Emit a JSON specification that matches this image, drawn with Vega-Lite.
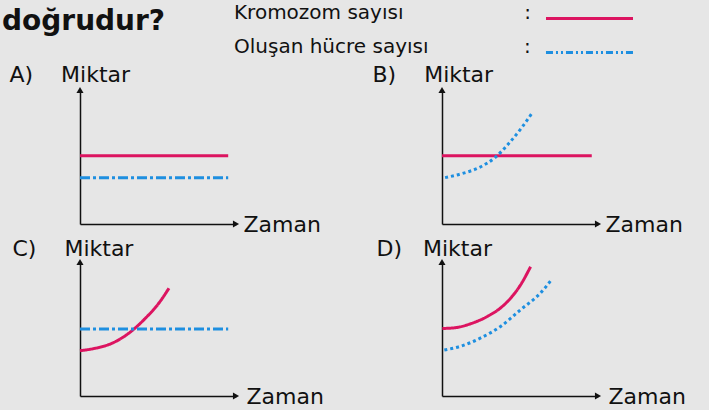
{
  "$schema": "https://vega.github.io/schema/vega-lite/v6.json",
  "background": "#e6e6e6",
  "padding": {"left": 2, "top": 8, "right": 30, "bottom": 12},
  "autosize": {"type": "pad"},
  "datasets": {
    "A": [
      {"series": "Kromozom sayısı", "dash": "solid", "x": 0, "y": 5.1},
      {"series": "Kromozom sayısı", "dash": "solid", "x": 9.5, "y": 5.1},
      {"series": "Oluşan hücre sayısı", "dash": "dashdot", "x": 0, "y": 3.45},
      {"series": "Oluşan hücre sayısı", "dash": "dashdot", "x": 9.5, "y": 3.45}
    ],
    "B": [
      {"series": "Kromozom sayısı", "dash": "solid", "x": 0, "y": 5.1},
      {"series": "Kromozom sayısı", "dash": "solid", "x": 9.6, "y": 5.1},
      {"series": "Oluşan hücre sayısı", "dash": "dotted", "x": 0.2, "y": 3.46},
      {"series": "Oluşan hücre sayısı", "dash": "dotted", "x": 1.28, "y": 3.76},
      {"series": "Oluşan hücre sayısı", "dash": "dotted", "x": 2.37, "y": 4.21},
      {"series": "Oluşan hücre sayısı", "dash": "dotted", "x": 3.4, "y": 4.96},
      {"series": "Oluşan hücre sayısı", "dash": "dotted", "x": 4.29, "y": 6.02},
      {"series": "Oluşan hücre sayısı", "dash": "dotted", "x": 5.13, "y": 7.22},
      {"series": "Oluşan hücre sayısı", "dash": "dotted", "x": 5.77, "y": 8.27}
    ],
    "C": [
      {"series": "Kromozom sayısı", "dash": "solid", "x": 0, "y": 3.38},
      {"series": "Kromozom sayısı", "dash": "solid", "x": 0.97, "y": 3.56},
      {"series": "Kromozom sayısı", "dash": "solid", "x": 2.04, "y": 3.93},
      {"series": "Kromozom sayısı", "dash": "solid", "x": 3.12, "y": 4.68},
      {"series": "Kromozom sayısı", "dash": "solid", "x": 4.19, "y": 5.8},
      {"series": "Kromozom sayısı", "dash": "solid", "x": 5.05, "y": 6.92},
      {"series": "Kromozom sayısı", "dash": "solid", "x": 5.7, "y": 8.04},
      {"series": "Oluşan hücre sayısı", "dash": "dashdot", "x": 0, "y": 5.0},
      {"series": "Oluşan hücre sayısı", "dash": "dashdot", "x": 9.5, "y": 5.0}
    ],
    "D": [
      {"series": "Kromozom sayısı", "dash": "solid", "x": 0.02, "y": 5.04},
      {"series": "Kromozom sayısı", "dash": "solid", "x": 0.82, "y": 5.09},
      {"series": "Kromozom sayısı", "dash": "solid", "x": 1.88, "y": 5.41},
      {"series": "Kromozom sayısı", "dash": "solid", "x": 2.93, "y": 5.95},
      {"series": "Kromozom sayısı", "dash": "solid", "x": 3.99, "y": 6.81},
      {"series": "Kromozom sayısı", "dash": "solid", "x": 5.04, "y": 8.3},
      {"series": "Kromozom sayısı", "dash": "solid", "x": 5.68, "y": 9.65},
      {"series": "Oluşan hücre sayısı", "dash": "dotted", "x": 0.15, "y": 3.43},
      {"series": "Oluşan hücre sayısı", "dash": "dotted", "x": 1.25, "y": 3.73},
      {"series": "Oluşan hücre sayısı", "dash": "dotted", "x": 2.51, "y": 4.35},
      {"series": "Oluşan hücre sayısı", "dash": "dotted", "x": 3.78, "y": 5.21},
      {"series": "Oluşan hücre sayısı", "dash": "dotted", "x": 5.04, "y": 6.44},
      {"series": "Oluşan hücre sayısı", "dash": "dotted", "x": 6.31, "y": 7.68},
      {"series": "Oluşan hücre sayısı", "dash": "dotted", "x": 7.05, "y": 8.72}
    ],
    "tip": [{}]
  },
  "columns": 2,
  "spacing": {"column": 206, "row": 38},
  "bounds": "flush",
  "resolve": {"scale": {"x": "independent", "y": "independent", "color": "shared", "strokeDash": "shared"}},
  "concat": [
    {
      "width": 156, "height": 134,
      "layer": [
        {
          "data": {"name": "A"},
          "mark": {"type": "line", "strokeWidth": 3, "interpolate": "monotone", "strokeCap": "butt"},
          "encoding": {
            "x": {"field": "x", "type": "quantitative", "scale": {"domain": [0, 10], "nice": false}, "axis": {"title": "Zaman", "titleX": 163, "titleY": 7}},
            "y": {"field": "y", "type": "quantitative", "scale": {"domain": [0, 10], "nice": false}, "axis": {"title": "A)\u00a0\u00a0\u00a0\u00a0Miktar", "titleX": -71, "titleY": -9}},
            "color": {
              "field": "series", "type": "nominal",
              "scale": {"domain": ["Kromozom sayısı", "Oluşan hücre sayısı"], "range": ["#dc1460", "#1e8fe0"]},
              "legend": {
                "orient": "none", "legendX": -78, "legendY": -82, "direction": "vertical",
                "title": "doğrudur?", "titleOrient": "left", "titleFont": "DejaVu Sans", "titleFontSize": 28, "titleFontWeight": "bold", "titleColor": "#111", "titlePadding": 68, "titleBaseline": "top", "titleAnchor": "start", "titleLimit": 0,
                "symbolType": "M-5,0H5", "symbolSize": 303, "symbolStrokeWidth": 3, "symbolOffset": 345, "labelOffset": -366,
                "labelFont": "DejaVu Sans", "labelFontSize": 20, "labelColor": "#111", "labelLimit": 0, "labelBaseline": "alphabetic",
                "rowPadding": 11, "padding": 0,
                "labelExpr": "datum.label === 'Kromozom sayısı' ? 'Kromozom sayısı\u00a0\u00a0\u00a0\u00a0\u00a0\u00a0\u00a0\u00a0\u00a0\u00a0\u00a0\u00a0\u00a0\u00a0\u00a0\u00a0\u00a0\u00a0\u00a0:' : 'Oluşan hücre sayısı\u00a0\u00a0\u00a0\u00a0\u00a0\u00a0\u00a0\u00a0\u00a0\u00a0\u00a0\u00a0\u00a0\u00a0\u00a0:'",
                "encode": {"symbols": {"update": {"strokeDash": {"signal": "datum.value === 'Oluşan hücre sayısı' ? [7, 3, 2, 3, 2, 3] : [1, 0]"}}}}
              }
            },
            "strokeDash": {"field": "dash", "type": "nominal", "scale": {"domain": ["solid", "dashdot", "dotted"], "range": [[1, 0], [10, 3, 3, 3], [3, 3]]}, "legend": null}
          }
        },
        {
          "data": {"name": "tip"},
          "mark": {"type": "point", "shape": "triangle-up", "filled": true, "color": "#111", "size": 50, "opacity": 1},
          "encoding": {"x": {"datum": 0, "type": "quantitative"}, "y": {"datum": 10, "type": "quantitative"}}
        },
        {
          "data": {"name": "tip"},
          "mark": {"type": "point", "shape": "triangle-right", "filled": true, "color": "#111", "size": 50, "opacity": 1},
          "encoding": {"x": {"datum": 10, "type": "quantitative"}, "y": {"datum": 0, "type": "quantitative"}}
        }
      ]
    },
    {
      "width": 156, "height": 134,
      "layer": [
        {
          "data": {"name": "B"},
          "mark": {"type": "line", "strokeWidth": 3, "interpolate": "monotone", "strokeCap": "butt"},
          "encoding": {
            "x": {"field": "x", "type": "quantitative", "scale": {"domain": [0, 10], "nice": false}, "axis": {"title": "Zaman", "titleX": 163, "titleY": 7}},
            "y": {"field": "y", "type": "quantitative", "scale": {"domain": [0, 10], "nice": false}, "axis": {"title": "B)\u00a0\u00a0\u00a0\u00a0Miktar", "titleX": -70, "titleY": -9}},
            "color": {"field": "series", "type": "nominal"},
            "strokeDash": {"field": "dash", "type": "nominal", "legend": null}
          }
        },
        {
          "data": {"name": "tip"},
          "mark": {"type": "point", "shape": "triangle-up", "filled": true, "color": "#111", "size": 50, "opacity": 1},
          "encoding": {"x": {"datum": 0, "type": "quantitative"}, "y": {"datum": 10, "type": "quantitative"}}
        },
        {
          "data": {"name": "tip"},
          "mark": {"type": "point", "shape": "triangle-right", "filled": true, "color": "#111", "size": 50, "opacity": 1},
          "encoding": {"x": {"datum": 10, "type": "quantitative"}, "y": {"datum": 0, "type": "quantitative"}}
        }
      ]
    },
    {
      "width": 156, "height": 134,
      "layer": [
        {
          "data": {"name": "C"},
          "mark": {"type": "line", "strokeWidth": 3, "interpolate": "monotone", "strokeCap": "butt"},
          "encoding": {
            "x": {"field": "x", "type": "quantitative", "scale": {"domain": [0, 10], "nice": false}, "axis": {"title": "Zaman", "titleX": 166, "titleY": 7}},
            "y": {"field": "y", "type": "quantitative", "scale": {"domain": [0, 10], "nice": false}, "axis": {"title": "C)\u00a0\u00a0\u00a0\u00a0Miktar", "titleX": -68, "titleY": -7}},
            "color": {"field": "series", "type": "nominal"},
            "strokeDash": {"field": "dash", "type": "nominal", "legend": null}
          }
        },
        {
          "data": {"name": "tip"},
          "mark": {"type": "point", "shape": "triangle-up", "filled": true, "color": "#111", "size": 50, "opacity": 1},
          "encoding": {"x": {"datum": 0, "type": "quantitative"}, "y": {"datum": 10, "type": "quantitative"}}
        },
        {
          "data": {"name": "tip"},
          "mark": {"type": "point", "shape": "triangle-right", "filled": true, "color": "#111", "size": 50, "opacity": 1},
          "encoding": {"x": {"datum": 10, "type": "quantitative"}, "y": {"datum": 0, "type": "quantitative"}}
        }
      ]
    },
    {
      "width": 156, "height": 134,
      "layer": [
        {
          "data": {"name": "D"},
          "mark": {"type": "line", "strokeWidth": 3, "interpolate": "monotone", "strokeCap": "butt"},
          "encoding": {
            "x": {"field": "x", "type": "quantitative", "scale": {"domain": [0, 10], "nice": false}, "axis": {"title": "Zaman", "titleX": 166, "titleY": 7}},
            "y": {"field": "y", "type": "quantitative", "scale": {"domain": [0, 10], "nice": false}, "axis": {"title": "D)\u00a0\u00a0\u00a0Miktar", "titleX": -66, "titleY": -7}},
            "color": {"field": "series", "type": "nominal"},
            "strokeDash": {"field": "dash", "type": "nominal", "legend": null}
          }
        },
        {
          "data": {"name": "tip"},
          "mark": {"type": "point", "shape": "triangle-up", "filled": true, "color": "#111", "size": 50, "opacity": 1},
          "encoding": {"x": {"datum": 0, "type": "quantitative"}, "y": {"datum": 10, "type": "quantitative"}}
        },
        {
          "data": {"name": "tip"},
          "mark": {"type": "point", "shape": "triangle-right", "filled": true, "color": "#111", "size": 50, "opacity": 1},
          "encoding": {"x": {"datum": 10, "type": "quantitative"}, "y": {"datum": 0, "type": "quantitative"}}
        }
      ]
    }
  ],
  "config": {
    "view": {"stroke": null},
    "font": "DejaVu Sans",
    "axis": {
      "domainColor": "#111", "domainWidth": 1.5, "ticks": false, "labels": false, "grid": false,
      "titleFont": "DejaVu Sans", "titleFontSize": 22, "titleFontWeight": "normal", "titleColor": "#111",
      "titleAngle": 0, "titleAlign": "left", "titleBaseline": "alphabetic"
    }
  }
}
